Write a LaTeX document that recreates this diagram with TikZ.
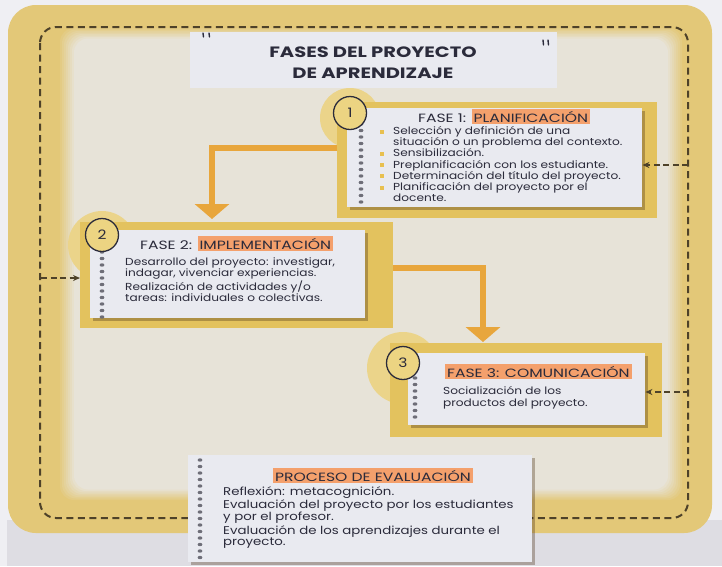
\documentclass[tikz,border=0pt]{standalone}
\usepackage{fontspec}
\setmainfont{Poppins}[FakeStretch=1.19]
\newfontfamily\capsfont{Poppins}[FakeStretch=1.3]
\usetikzlibrary{arrows.meta,shadows}
\definecolor{bgwhite}{HTML}{EFEFF3}
\definecolor{pagegray}{HTML}{DEDDE3}
\definecolor{band}{HTML}{E3C878}
\definecolor{interior}{HTML}{E7E3D8}
\definecolor{framegold}{HTML}{E3C25E}
\definecolor{bumpcol}{HTML}{EBD48A}
\definecolor{cardcol}{HTML}{E9EAF0}
\definecolor{hlcol}{HTML}{F4A06C}
\definecolor{orcol}{HTML}{E8A63C}
\definecolor{dashcol}{HTML}{4E4229}
\definecolor{txt}{HTML}{2B2B3B}
\definecolor{holecol}{HTML}{6E6E78}
\definecolor{bulcol}{HTML}{E8C050}
\definecolor{numfill}{HTML}{ECD482}
\begin{document}
\begin{tikzpicture}[x=1pt,y=-1pt,
  frame/.style={fill=framegold, inner sep=0, anchor=north west},
  bump/.style={circle, fill=bumpcol, inner sep=0},
  card/.style={fill=cardcol, inner sep=0, anchor=north west,
    drop shadow={shadow xshift=2.5pt, shadow yshift=-2.5pt, opacity=.35, fill=black!60!brown}},
  numc/.style={circle, draw=txt, line width=1.3pt, fill=numfill, minimum size=33pt, inner sep=0,
    font=\fontsize{13}{13}\selectfont, text=txt},
  ttl/.style={font=\capsfont\fontsize{12}{13}\selectfont, text=txt, inner sep=0, anchor=base west},
  hl/.style={fill=hlcol, inner xsep=2pt, inner ysep=2pt, font=\capsfont\fontsize{12}{13}\selectfont,
    text=txt, anchor=base west},
  body/.style={font=\fontsize{10.2}{11.2}\selectfont, text=txt, inner sep=0, anchor=base west, align=left},
  evbody/.style={body, font=\fontsize{11.2}{10.8}\selectfont},
  bul/.style={fill=bulcol, minimum size=4pt, inner sep=0},
  orline/.style={draw=orcol, line width=6pt, -{Triangle[width=34pt,length=15pt]}},
  dasharrow/.style={draw=dashcol, line width=1.4pt, dash pattern=on 6pt off 3.5pt,
    -{Stealth[length=7pt,width=6pt]}},
  outerdash/.style={draw=dashcol, line width=2pt, dash pattern=on 7pt off 4.5pt},
  tapemark/.style={draw=txt, line width=1.4pt, line cap=round}
]
\useasboundingbox (0,0) rectangle (722,566);
% background and page
\fill[bgwhite] (0,0) rectangle (722,566);
\fill[pagegray] (7,520) rectangle (722,566);
\fill[band, rounded corners=28pt] (8,5) rectangle (712,533);
% soft-edged light interior
\foreach \i in {0,...,7}{
  \pgfmathsetmacro{\mix}{12.5*(\i+1)}
  \fill[interior!\mix!band, rounded corners=14pt] (60+2*\i,28+1.5*\i) rectangle (682-2*\i,500-1.5*\i);
}
\draw[outerdash, rounded corners=16pt] (40,27) rectangle (688,518);

% title card
\node[fill=cardcol, inner sep=0, anchor=north west, minimum width=367pt, minimum height=56pt] (tcard) at (190,32) {};
\node[font=\capsfont\bfseries\fontsize{15}{21}\selectfont, text=txt, align=center] (title) at (373,63) {FASES DEL PROYECTO\\DE APRENDIZAJE};
\draw[tapemark] (203,33) -- (203.5,37);
\draw[tapemark] (209,33) -- (209.5,37);
\draw[tapemark] (543,40) -- (543.5,45);
\draw[tapemark] (548,40) -- (548.5,45);

% ---------- phase 1
\node[bump, minimum size=60pt] (b1) at (350,118) {};
\node[frame, minimum width=320pt, minimum height=116pt] (f1) at (337,102) {};
\node[card, minimum width=295pt, minimum height=99pt] (k1) at (347,108) {};
\foreach \yy in {124,130.5,...,206} \fill[holecol] (361,\yy) ellipse (2.4 and 1.7);
\node[numc] (n1) at (350,113) {1};
\node[ttl] (t1a) at (418,122) {FASE 1:};
\node[hl] (t1b) at ([xshift=5pt]t1a.base east) {PLANIFICACIÓN};
% anchor = baseline of the last line
\node[body] (p1) at (393,201.7) {Selección y definición de una\\situación o un problema del contexto.\\Sensibilización.\\Preplanificación con los estudiante.\\Determinación del título del proyecto.\\Planificación del proyecto por el\\docente.};
\foreach \yy [count=\i] in {131.5,153.9,165.1,176.3,187.5} \node[bul] (bu\i) at (382,\yy) {};

% ---------- phase 2
\node[bump, minimum size=68pt] (b2) at (102,245) {};
\node[frame, minimum width=313pt, minimum height=106pt] (f2) at (80,222) {};
\node[card, minimum width=275pt, minimum height=88pt] (k2) at (90,230) {};
\foreach \yy in {252,258.5,...,318} \fill[holecol] (102,\yy) ellipse (2.4 and 1.7);
\node[numc] (n2) at (102,235) {2};
\node[ttl] (t2a) at (140,249) {FASE 2:};
\node[hl] (t2b) at ([xshift=5pt]t2a.base east) {IMPLEMENTACIÓN};
\node[body] (p2) at (125,276.2) {Desarrollo del proyecto: investigar,\\indagar, vivenciar experiencias.};
\node[body] (p2b) at (125,301.5) {Realización de actividades y/o\\tareas: individuales o colectivas.};

% ---------- phase 3
\node[bump, minimum size=72pt] (b3) at (403,368) {};
\node[frame, minimum width=272pt, minimum height=94pt] (f3) at (390,343) {};
\node[card, minimum width=237pt, minimum height=72pt] (k3) at (408,353) {};
\foreach \yy in {378,384.5,...,423} \fill[holecol] (415,\yy) ellipse (2.4 and 1.7);
\node[numc] (n3) at (403,363) {3};
\node[hl] (t3) at (445,377) {FASE 3: COMUNICACIÓN};
\node[body] (p3) at (443,406) {Socialización de los\\productos del proyecto.};

% ---------- evaluation
\node[card, minimum width=344pt, minimum height=107pt] (k4) at (188,455) {};
\foreach \yy in {460,466.5,...,560} \fill[holecol] (200,\yy) ellipse (2.4 and 1.7);
\node[hl] (t4) at (273,481) {PROCESO DE EVALUACIÓN};
\node[evbody] (p4) at (223,495.5) {Reflexión: metacognición.};
\node[evbody] (p4b) at (223,520.5) {Evaluación del proyecto por los estudiantes\\y por el profesor.};
\node[evbody] (p4c) at (223,545) {Evaluación de los aprendizajes durante el\\proyecto.};

% ---------- connectors
\coordinate (c1) at (212,148);
\draw[orline, shorten >=3pt] (f1.west |- c1) -- (c1) -- (c1 |- f2.north);
\coordinate (c2) at (483,268);
\draw[orline, shorten >=1pt] (f2.east |- c2) -- (c2) -- (c2 |- f3.north);
\coordinate (d1) at (688,165);
\draw[dasharrow] (d1) -- (k1.east |- d1);
\coordinate (d3) at (689,392);
\draw[dasharrow] (d3) -- (k3.east |- d3);
\coordinate (d2) at (41,278);
\draw[dasharrow] (d2) -- (f2.west |- d2);
\end{tikzpicture}
\end{document}
